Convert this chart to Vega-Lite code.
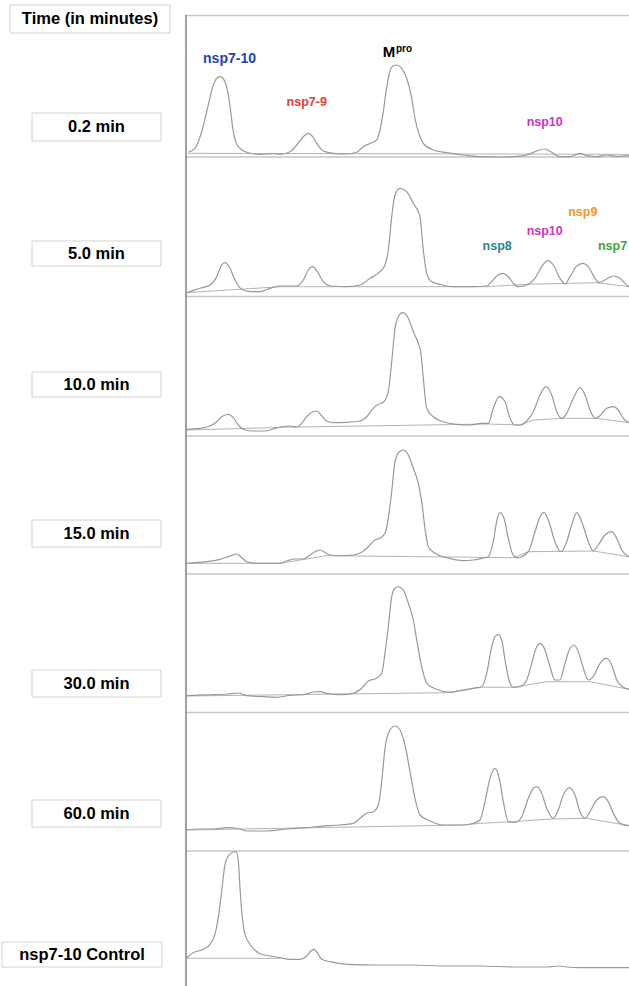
{
  "$schema": "https://vega.github.io/schema/vega-lite/v6.json",
  "width": 629,
  "height": 986,
  "autosize": "none",
  "padding": 0,
  "background": "white",
  "config": {"view": {"stroke": null}},
  "datasets": {
    "traces": [
      {"panel":"0.2","x":2.3,"y":833.7},{"panel":"0.2","x":9,"y":837.7},{"panel":"0.2","x":15.7,"y":854.3},{"panel":"0.2","x":22.3,"y":881},{"panel":"0.2","x":27.3,"y":901},{"panel":"0.2","x":31.3,"y":908.3},{"panel":"0.2","x":34,"y":909.3},{"panel":"0.2","x":39,"y":904.3},{"panel":"0.2","x":42.3,"y":891},{"panel":"0.2","x":44.7,"y":874.3},{"panel":"0.2","x":47.3,"y":854.3},{"panel":"0.2","x":52.3,"y":839.3},{"panel":"0.2","x":60.7,"y":833.7},{"panel":"0.2","x":74,"y":831.7},{"panel":"0.2","x":87.3,"y":832.3},{"panel":"0.2","x":94,"y":831.7},{"panel":"0.2","x":104,"y":834.3},{"panel":"0.2","x":110.7,"y":841},{"panel":"0.2","x":117.3,"y":849.3},{"panel":"0.2","x":122.3,"y":852.7},{"panel":"0.2","x":126.7,"y":849.3},{"panel":"0.2","x":130.7,"y":842.7},{"panel":"0.2","x":137.3,"y":835},{"panel":"0.2","x":147.3,"y":832.7},{"panel":"0.2","x":160.7,"y":832},{"panel":"0.2","x":170.7,"y":833.7},{"panel":"0.2","x":177.3,"y":839.3},{"panel":"0.2","x":185.7,"y":843.3},{"panel":"0.2","x":190.7,"y":846},{"panel":"0.2","x":194,"y":856},{"panel":"0.2","x":197.3,"y":874.3},{"panel":"0.2","x":200,"y":894.3},{"panel":"0.2","x":203.3,"y":912.7},{"panel":"0.2","x":207.3,"y":920.3},{"panel":"0.2","x":210.7,"y":921},{"panel":"0.2","x":215.7,"y":917.7},{"panel":"0.2","x":220.7,"y":907.7},{"panel":"0.2","x":225.7,"y":887.7},{"panel":"0.2","x":229,"y":867.7},{"panel":"0.2","x":232.3,"y":854.3},{"panel":"0.2","x":237.3,"y":842.7},{"panel":"0.2","x":247.3,"y":836},{"panel":"0.2","x":260.7,"y":833.3},{"panel":"0.2","x":277.3,"y":831},{"panel":"0.2","x":294,"y":829.3},{"panel":"0.2","x":310.7,"y":829},{"panel":"0.2","x":327.3,"y":829.3},{"panel":"0.2","x":340.7,"y":831},{"panel":"0.2","x":350.7,"y":835},{"panel":"0.2","x":359,"y":837},{"panel":"0.2","x":365.7,"y":833.7},{"panel":"0.2","x":374,"y":829.3},{"panel":"0.2","x":384,"y":829.3},{"panel":"0.2","x":394,"y":832.7},{"panel":"0.2","x":400.7,"y":830.3},{"panel":"0.2","x":410.7,"y":829.3},{"panel":"0.2","x":420.7,"y":831},{"panel":"0.2","x":430.7,"y":829.7},{"panel":"0.2","x":443,"y":830.3},

      {"panel":"5.0","x":0.7,"y":693.3},{"panel":"5.0","x":14,"y":697.7},{"panel":"5.0","x":24,"y":701},{"panel":"5.0","x":30.7,"y":709.3},{"panel":"5.0","x":35.7,"y":721},{"panel":"5.0","x":39,"y":723.3},{"panel":"5.0","x":44,"y":717.7},{"panel":"5.0","x":49,"y":706},{"panel":"5.0","x":55.7,"y":696.7},{"panel":"5.0","x":64,"y":694.3},{"panel":"5.0","x":74,"y":694.3},{"panel":"5.0","x":84,"y":697.7},{"panel":"5.0","x":94,"y":700},{"panel":"5.0","x":110.7,"y":700},{"panel":"5.0","x":117.3,"y":706},{"panel":"5.0","x":122.3,"y":716},{"panel":"5.0","x":126.7,"y":719.3},{"panel":"5.0","x":131.3,"y":714.3},{"panel":"5.0","x":137.3,"y":704.3},{"panel":"5.0","x":144,"y":700},{"panel":"5.0","x":160.7,"y":699.3},{"panel":"5.0","x":174,"y":701},{"panel":"5.0","x":184,"y":707.7},{"panel":"5.0","x":194,"y":714.3},{"panel":"5.0","x":199,"y":721},{"panel":"5.0","x":202.3,"y":736},{"panel":"5.0","x":205.7,"y":769.3},{"panel":"5.0","x":209,"y":791},{"panel":"5.0","x":214,"y":797.7},{"panel":"5.0","x":220.7,"y":794.3},{"panel":"5.0","x":227.3,"y":782.7},{"panel":"5.0","x":232.3,"y":774.3},{"panel":"5.0","x":234,"y":769.3},{"panel":"5.0","x":237.3,"y":736},{"panel":"5.0","x":240.7,"y":712.7},{"panel":"5.0","x":245.7,"y":704.3},{"panel":"5.0","x":254,"y":701.7},{"panel":"5.0","x":267.3,"y":699.3},{"panel":"5.0","x":287.3,"y":699.3},{"panel":"5.0","x":300.7,"y":700},{"panel":"5.0","x":305.7,"y":704.3},{"panel":"5.0","x":310.7,"y":710},{"panel":"5.0","x":316.7,"y":712.7},{"panel":"5.0","x":322.3,"y":709.3},{"panel":"5.0","x":327.3,"y":702.7},{"panel":"5.0","x":332.3,"y":699.3},{"panel":"5.0","x":340.7,"y":701},{"panel":"5.0","x":349,"y":707.7},{"panel":"5.0","x":355.7,"y":719.3},{"panel":"5.0","x":361.7,"y":725.3},{"panel":"5.0","x":367.3,"y":721},{"panel":"5.0","x":374,"y":707.7},{"panel":"5.0","x":379,"y":702},{"panel":"5.0","x":384,"y":709.3},{"panel":"5.0","x":390.7,"y":720},{"panel":"5.0","x":396.7,"y":722.7},{"panel":"5.0","x":402.3,"y":719.3},{"panel":"5.0","x":409,"y":707.7},{"panel":"5.0","x":413.3,"y":703.3},{"panel":"5.0","x":419,"y":706},{"panel":"5.0","x":427.3,"y":710},{"panel":"5.0","x":434,"y":707.7},{"panel":"5.0","x":440.7,"y":701},{"panel":"5.0","x":443,"y":699.3},

      {"panel":"10.0","x":0.7,"y":556.7},{"panel":"10.0","x":14,"y":557.7},{"panel":"10.0","x":24,"y":560},{"panel":"10.0","x":30.7,"y":564.3},{"panel":"10.0","x":35.7,"y":569.3},{"panel":"10.0","x":42.3,"y":571.7},{"panel":"10.0","x":47.3,"y":568.3},{"panel":"10.0","x":52.3,"y":561},{"panel":"10.0","x":59,"y":556},{"panel":"10.0","x":67.3,"y":555},{"panel":"10.0","x":79,"y":555},{"panel":"10.0","x":87.3,"y":557},{"panel":"10.0","x":94,"y":559},{"panel":"10.0","x":104,"y":560},{"panel":"10.0","x":110.7,"y":559},{"panel":"10.0","x":115.7,"y":562.7},{"panel":"10.0","x":120.7,"y":569.3},{"panel":"10.0","x":125.7,"y":573.7},{"panel":"10.0","x":130.7,"y":575},{"panel":"10.0","x":135.7,"y":570.3},{"panel":"10.0","x":140.7,"y":565},{"panel":"10.0","x":147.3,"y":563.3},{"panel":"10.0","x":160.7,"y":563.7},{"panel":"10.0","x":174,"y":565},{"panel":"10.0","x":180.7,"y":569.3},{"panel":"10.0","x":187.3,"y":577.7},{"panel":"10.0","x":192.3,"y":581.7},{"panel":"10.0","x":197.3,"y":583.7},{"panel":"10.0","x":202.3,"y":594.3},{"panel":"10.0","x":205.7,"y":624.3},{"panel":"10.0","x":209,"y":657.7},{"panel":"10.0","x":212.3,"y":669.3},{"panel":"10.0","x":216.7,"y":673.3},{"panel":"10.0","x":222.3,"y":667.7},{"panel":"10.0","x":227.3,"y":654.3},{"panel":"10.0","x":232.3,"y":642.7},{"panel":"10.0","x":234.7,"y":634.3},{"panel":"10.0","x":237.3,"y":607.7},{"panel":"10.0","x":240.7,"y":577.7},{"panel":"10.0","x":247.3,"y":569.3},{"panel":"10.0","x":257.3,"y":564.3},{"panel":"10.0","x":270.7,"y":561.7},{"panel":"10.0","x":284,"y":561},{"panel":"10.0","x":295.7,"y":562.7},{"panel":"10.0","x":302.3,"y":562.7},{"panel":"10.0","x":307.3,"y":577.7},{"panel":"10.0","x":313.3,"y":589.3},{"panel":"10.0","x":319,"y":584.3},{"panel":"10.0","x":324,"y":567.7},{"panel":"10.0","x":329,"y":561},{"panel":"10.0","x":334,"y":561},{"panel":"10.0","x":340.7,"y":565},{"panel":"10.0","x":347.3,"y":574.3},{"panel":"10.0","x":354,"y":591},{"panel":"10.0","x":360,"y":599.3},{"panel":"10.0","x":365.7,"y":591},{"panel":"10.0","x":370.7,"y":574.3},{"panel":"10.0","x":375.7,"y":567.7},{"panel":"10.0","x":380.7,"y":572.7},{"panel":"10.0","x":387.3,"y":587.7},{"panel":"10.0","x":394,"y":598.3},{"panel":"10.0","x":399,"y":591},{"panel":"10.0","x":404,"y":576},{"panel":"10.0","x":409,"y":567.7},{"panel":"10.0","x":414.7,"y":571},{"panel":"10.0","x":420.7,"y":577.7},{"panel":"10.0","x":427.3,"y":579.3},{"panel":"10.0","x":432.3,"y":576},{"panel":"10.0","x":437.3,"y":567.7},{"panel":"10.0","x":443,"y":563.3},

      {"panel":"15.0","x":0.7,"y":422.7},{"panel":"15.0","x":20.7,"y":424.3},{"panel":"15.0","x":34,"y":426.7},{"panel":"15.0","x":42.3,"y":429.3},{"panel":"15.0","x":50.7,"y":432},{"panel":"15.0","x":55.7,"y":428.3},{"panel":"15.0","x":60.7,"y":424.3},{"panel":"15.0","x":70.7,"y":422.7},{"panel":"15.0","x":94,"y":422.7},{"panel":"15.0","x":100.7,"y":425},{"panel":"15.0","x":109,"y":427},{"panel":"15.0","x":117.3,"y":427},{"panel":"15.0","x":124,"y":431},{"panel":"15.0","x":129,"y":434.3},{"panel":"15.0","x":134,"y":436},{"panel":"15.0","x":139,"y":433.7},{"panel":"15.0","x":144,"y":431},{"panel":"15.0","x":154,"y":430.3},{"panel":"15.0","x":167.3,"y":431},{"panel":"15.0","x":175.7,"y":433.7},{"panel":"15.0","x":182.3,"y":439.3},{"panel":"15.0","x":189,"y":446},{"panel":"15.0","x":194,"y":447.7},{"panel":"15.0","x":199,"y":452.7},{"panel":"15.0","x":202.3,"y":467.7},{"panel":"15.0","x":205.7,"y":494.3},{"panel":"15.0","x":209,"y":524.3},{"panel":"15.0","x":213.3,"y":534.3},{"panel":"15.0","x":217.3,"y":536},{"panel":"15.0","x":222.3,"y":531},{"panel":"15.0","x":227.3,"y":517.7},{"panel":"15.0","x":232.3,"y":502.7},{"panel":"15.0","x":235.7,"y":484.3},{"panel":"15.0","x":239,"y":457.7},{"panel":"15.0","x":242.3,"y":439.3},{"panel":"15.0","x":249,"y":432.7},{"panel":"15.0","x":260.7,"y":428.3},{"panel":"15.0","x":277.3,"y":425.3},{"panel":"15.0","x":287.3,"y":426},{"panel":"15.0","x":295.7,"y":427.7},{"panel":"15.0","x":302.3,"y":429.3},{"panel":"15.0","x":307.3,"y":444.3},{"panel":"15.0","x":311.3,"y":467.7},{"panel":"15.0","x":314,"y":473.3},{"panel":"15.0","x":318,"y":467.7},{"panel":"15.0","x":322.3,"y":447.7},{"panel":"15.0","x":326.3,"y":432.7},{"panel":"15.0","x":330.7,"y":428.3},{"panel":"15.0","x":335.7,"y":429.3},{"panel":"15.0","x":342.3,"y":434.3},{"panel":"15.0","x":349,"y":454.3},{"panel":"15.0","x":354,"y":469.3},{"panel":"15.0","x":358,"y":473.3},{"panel":"15.0","x":362.3,"y":466},{"panel":"15.0","x":369,"y":444.3},{"panel":"15.0","x":374.7,"y":434.3},{"panel":"15.0","x":380.7,"y":444.3},{"panel":"15.0","x":385.7,"y":461},{"panel":"15.0","x":390.7,"y":473.3},{"panel":"15.0","x":395.7,"y":464.3},{"panel":"15.0","x":402.3,"y":444.3},{"panel":"15.0","x":407.3,"y":435},{"panel":"15.0","x":412.3,"y":441},{"panel":"15.0","x":419,"y":451},{"panel":"15.0","x":425.7,"y":454.3},{"panel":"15.0","x":430.7,"y":447.7},{"panel":"15.0","x":435.7,"y":436},{"panel":"15.0","x":443,"y":429.3},

      {"panel":"30.0","x":0.7,"y":290.3},{"panel":"30.0","x":7.3,"y":290.7},{"panel":"30.0","x":27.3,"y":291.3},{"panel":"30.0","x":40.7,"y":292},{"panel":"30.0","x":52.3,"y":293},{"panel":"30.0","x":60.7,"y":290.3},{"panel":"30.0","x":77.3,"y":289.3},{"panel":"30.0","x":90.7,"y":288.7},{"panel":"30.0","x":104,"y":290.7},{"panel":"30.0","x":117.3,"y":291.3},{"panel":"30.0","x":127.3,"y":294},{"panel":"30.0","x":134,"y":294.3},{"panel":"30.0","x":140.7,"y":292.7},{"panel":"30.0","x":154,"y":291.3},{"panel":"30.0","x":167.3,"y":292.7},{"panel":"30.0","x":175.7,"y":297.7},{"panel":"30.0","x":182.3,"y":305},{"panel":"30.0","x":190.7,"y":307.7},{"panel":"30.0","x":195.7,"y":312.7},{"panel":"30.0","x":199,"y":332.7},{"panel":"30.0","x":202.3,"y":359.3},{"panel":"30.0","x":205.7,"y":389.3},{"panel":"30.0","x":209,"y":397.7},{"panel":"30.0","x":212.3,"y":399.3},{"panel":"30.0","x":217.3,"y":396},{"panel":"30.0","x":222.3,"y":382.7},{"panel":"30.0","x":227.3,"y":366},{"panel":"30.0","x":231.3,"y":342.7},{"panel":"30.0","x":235.7,"y":319.3},{"panel":"30.0","x":240.7,"y":302.7},{"panel":"30.0","x":250.7,"y":296.7},{"panel":"30.0","x":264,"y":293.7},{"panel":"30.0","x":274,"y":295.3},{"panel":"30.0","x":287.3,"y":297.7},{"panel":"30.0","x":295.7,"y":299.3},{"panel":"30.0","x":300.7,"y":312.7},{"panel":"30.0","x":305.7,"y":339.3},{"panel":"30.0","x":309,"y":349.3},{"panel":"30.0","x":312.3,"y":351.7},{"panel":"30.0","x":315.7,"y":346},{"panel":"30.0","x":319,"y":326},{"panel":"30.0","x":323,"y":306},{"panel":"30.0","x":327.3,"y":298.7},{"panel":"30.0","x":334,"y":299.3},{"panel":"30.0","x":340.7,"y":306},{"panel":"30.0","x":345.7,"y":322.7},{"panel":"30.0","x":350.7,"y":339.3},{"panel":"30.0","x":354.7,"y":342.7},{"panel":"30.0","x":359,"y":336},{"panel":"30.0","x":364,"y":319.3},{"panel":"30.0","x":369,"y":306},{"panel":"30.0","x":374,"y":306},{"panel":"30.0","x":379,"y":322.7},{"panel":"30.0","x":384,"y":337.7},{"panel":"30.0","x":388,"y":341},{"panel":"30.0","x":392.3,"y":334.3},{"panel":"30.0","x":397.3,"y":317.7},{"panel":"30.0","x":402.3,"y":306},{"panel":"30.0","x":407.3,"y":309.3},{"panel":"30.0","x":414,"y":322.7},{"panel":"30.0","x":420.7,"y":327.7},{"panel":"30.0","x":425.7,"y":321},{"panel":"30.0","x":430.7,"y":306},{"panel":"30.0","x":437.3,"y":298.7},{"panel":"30.0","x":443,"y":296.7},

      {"panel":"60.0","x":0.7,"y":156},{"panel":"60.0","x":14,"y":157},{"panel":"60.0","x":27.3,"y":157},{"panel":"60.0","x":40.7,"y":158.3},{"panel":"60.0","x":54,"y":157},{"panel":"60.0","x":60.7,"y":155},{"panel":"60.0","x":80.7,"y":155},{"panel":"60.0","x":100.7,"y":157},{"panel":"60.0","x":120.7,"y":158.3},{"panel":"60.0","x":134,"y":159.7},{"panel":"60.0","x":154,"y":161},{"panel":"60.0","x":167.3,"y":162.7},{"panel":"60.0","x":174,"y":167.7},{"panel":"60.0","x":180.7,"y":172.7},{"panel":"60.0","x":187.3,"y":174.3},{"panel":"60.0","x":192.3,"y":181},{"panel":"60.0","x":195.7,"y":204.3},{"panel":"60.0","x":199,"y":237.7},{"panel":"60.0","x":204,"y":256},{"panel":"60.0","x":209,"y":260},{"panel":"60.0","x":214,"y":256},{"panel":"60.0","x":219,"y":241},{"panel":"60.0","x":224,"y":214.3},{"panel":"60.0","x":229,"y":187.7},{"panel":"60.0","x":234,"y":171},{"panel":"60.0","x":244,"y":165},{"panel":"60.0","x":257.3,"y":161},{"panel":"60.0","x":277.3,"y":161},{"panel":"60.0","x":287.3,"y":162.7},{"panel":"60.0","x":294,"y":166},{"panel":"60.0","x":299,"y":184.3},{"panel":"60.0","x":304,"y":207.7},{"panel":"60.0","x":309,"y":217.7},{"panel":"60.0","x":313.3,"y":207.7},{"panel":"60.0","x":317.3,"y":184.3},{"panel":"60.0","x":322.3,"y":164.3},{"panel":"60.0","x":329,"y":163.7},{"panel":"60.0","x":335.7,"y":169.3},{"panel":"60.0","x":342.3,"y":187.7},{"panel":"60.0","x":347.3,"y":197.7},{"panel":"60.0","x":350.7,"y":199.3},{"panel":"60.0","x":355.7,"y":192.7},{"panel":"60.0","x":360.7,"y":177.7},{"panel":"60.0","x":367.3,"y":167.7},{"panel":"60.0","x":372.3,"y":176},{"panel":"60.0","x":377.3,"y":191},{"panel":"60.0","x":383.3,"y":198.3},{"panel":"60.0","x":389,"y":191},{"panel":"60.0","x":394,"y":174.3},{"panel":"60.0","x":399,"y":167.7},{"panel":"60.0","x":404,"y":174.3},{"panel":"60.0","x":410.7,"y":186},{"panel":"60.0","x":417.3,"y":189.3},{"panel":"60.0","x":422.3,"y":184.3},{"panel":"60.0","x":427.3,"y":172.7},{"panel":"60.0","x":434,"y":162.7},{"panel":"60.0","x":443,"y":160.3},

      {"panel":"control","x":0,"y":27.7},{"panel":"control","x":7.3,"y":33.3},{"panel":"control","x":17.3,"y":36.7},{"panel":"control","x":24,"y":41.7},{"panel":"control","x":29,"y":51.7},{"panel":"control","x":32.3,"y":68.3},{"panel":"control","x":35.7,"y":95},{"panel":"control","x":39,"y":121.7},{"panel":"control","x":42.3,"y":130},{"panel":"control","x":47.3,"y":134},{"panel":"control","x":50,"y":134.3},{"panel":"control","x":52.3,"y":125},{"panel":"control","x":54,"y":98.3},{"panel":"control","x":55.7,"y":75},{"panel":"control","x":59,"y":51.7},{"panel":"control","x":64,"y":41.7},{"panel":"control","x":74,"y":32.3},{"panel":"control","x":84,"y":30},{"panel":"control","x":94,"y":28.3},{"panel":"control","x":104,"y":26.7},{"panel":"control","x":114,"y":26.7},{"panel":"control","x":120.7,"y":30},{"panel":"control","x":124.7,"y":35},{"panel":"control","x":128,"y":36.7},{"panel":"control","x":131.3,"y":33.3},{"panel":"control","x":135.7,"y":26.7},{"panel":"control","x":144,"y":24.3},{"panel":"control","x":160.7,"y":21.7},{"panel":"control","x":194,"y":21},{"panel":"control","x":227.3,"y":21},{"panel":"control","x":260.7,"y":20},{"panel":"control","x":294,"y":20},{"panel":"control","x":327.3,"y":19},{"panel":"control","x":360.7,"y":19},{"panel":"control","x":374,"y":20},{"panel":"control","x":380.7,"y":19},{"panel":"control","x":394,"y":18.3},{"panel":"control","x":427.3,"y":18.3},{"panel":"control","x":443,"y":18.3}
    ],
    "baselines": [
      {"panel":"0.2","x":2.3,"y":832.7},{"panel":"0.2","x":443,"y":831.7},
      {"panel":"5.0","x":0.7,"y":693.3},{"panel":"5.0","x":94,"y":699.3},{"panel":"5.0","x":300.7,"y":699.3},{"panel":"5.0","x":340.7,"y":701.7},{"panel":"5.0","x":410.7,"y":703.3},{"panel":"5.0","x":443,"y":699.3},
      {"panel":"10.0","x":0.7,"y":556},{"panel":"10.0","x":110.7,"y":559},{"panel":"10.0","x":302.3,"y":562},{"panel":"10.0","x":334,"y":561},{"panel":"10.0","x":347.3,"y":566},{"panel":"10.0","x":377.3,"y":567.7},{"panel":"10.0","x":410.7,"y":567.7},{"panel":"10.0","x":443,"y":563.3},
      {"panel":"15.0","x":0.7,"y":422.7},{"panel":"15.0","x":94,"y":422.7},{"panel":"15.0","x":140.7,"y":430.3},{"panel":"15.0","x":327.3,"y":428.3},{"panel":"15.0","x":342.3,"y":434.3},{"panel":"15.0","x":407.3,"y":435},{"panel":"15.0","x":443,"y":429.3},
      {"panel":"30.0","x":0.7,"y":290},{"panel":"30.0","x":260.7,"y":293.3},{"panel":"30.0","x":294,"y":298.7},{"panel":"30.0","x":327.3,"y":298.7},{"panel":"30.0","x":360.7,"y":304.3},{"panel":"30.0","x":404,"y":304.3},{"panel":"30.0","x":443,"y":296.7},
      {"panel":"60.0","x":0.7,"y":156},{"panel":"60.0","x":277.3,"y":161},{"panel":"60.0","x":294,"y":162.7},{"panel":"60.0","x":327.3,"y":164.3},{"panel":"60.0","x":364,"y":167},{"panel":"60.0","x":400.7,"y":167.7},{"panel":"60.0","x":443,"y":160.3},
      {"panel":"control","x":0,"y":27.7},{"panel":"control","x":94,"y":27.7}
    ],
    "separators": [
      {"x":0,"x2":443,"y":970.5},{"x":0,"x2":443,"y":829},{"x":0,"x2":443,"y":689.5},{"x":0,"x2":443,"y":550},{"x":0,"x2":443,"y":412},{"x":0,"x2":443,"y":273.5},{"x":0,"x2":443,"y":135}
    ],
    "axisline": [{"x":0,"y":0,"y2":971}],
    "boxes": [
      {"label":"Time (in minutes)","x":-176,"x2":-16,"y":981,"y2":953,"xc":-96,"yc":967},
      {"label":"0.2 min","x":-154,"x2":-25,"y":873,"y2":845,"xc":-89.5,"yc":859},
      {"label":"5.0 min","x":-154,"x2":-25,"y":745,"y2":720,"xc":-89.5,"yc":732.5},
      {"label":"10.0 min","x":-154,"x2":-25,"y":614,"y2":589,"xc":-89.5,"yc":601.5},
      {"label":"15.0 min","x":-154,"x2":-25,"y":466,"y2":439,"xc":-89.5,"yc":452.5},
      {"label":"30.0 min","x":-154,"x2":-25,"y":316,"y2":289,"xc":-89.5,"yc":302.5},
      {"label":"60.0 min","x":-154,"x2":-25,"y":186,"y2":159,"xc":-89.5,"yc":172.5},
      {"label":"nsp7-10 Control","x":-184,"x2":-24,"y":44,"y2":19,"xc":-104,"yc":31.5}
    ],
    "peaks": [
      {"protein":"nsp7-10","text":"nsp7-10","x":43.5,"y":927},
      {"protein":"nsp7-9","text":"nsp7-9","x":120.7,"y":884.3},
      {"protein":"nsp10","text":"nsp10","x":358.7,"y":863.8},
      {"protein":"nsp8","text":"nsp8","x":311.2,"y":740.2},
      {"protein":"nsp10","text":"nsp10","x":358.7,"y":755.5},
      {"protein":"nsp9","text":"nsp9","x":396.8,"y":774.3},
      {"protein":"nsp7","text":"nsp7","x":426.5,"y":740.2}
    ],
    "mpro": [
      {"protein":"Mpro","text":"M","part":"main","x":196.7,"y":929.3},
      {"protein":"Mpro","text":"pro","part":"sup","x":210,"y":934}
    ]
  },
  "encoding": {
    "x": {"field": "x", "type": "quantitative", "scale": {"domain": [-186, 443], "nice": false, "zero": false}, "axis": null},
    "y": {"field": "y", "type": "quantitative", "scale": {"domain": [0, 986], "nice": false, "zero": false}, "axis": null}
  },
  "layer": [
    {
      "data": {"name": "separators"},
      "mark": {"type": "rule", "color": "#c6c6c6", "strokeWidth": 1.5},
      "encoding": {"x2": {"field": "x2"}}
    },
    {
      "data": {"name": "axisline"},
      "mark": {"type": "rule", "color": "#808080", "strokeWidth": 1.5},
      "encoding": {"y2": {"field": "y2"}}
    },
    {
      "data": {"name": "baselines"},
      "mark": {"type": "line", "color": "#b4b4b4", "strokeWidth": 1},
      "encoding": {"detail": {"field": "panel", "type": "nominal"}}
    },
    {
      "data": {"name": "traces"},
      "mark": {"type": "line", "color": "#999999", "strokeWidth": 1.2, "interpolate": "monotone"},
      "encoding": {"detail": {"field": "panel", "type": "nominal"}}
    },
    {
      "data": {"name": "boxes"},
      "mark": {"type": "rect", "fill": "white", "stroke": "#d2d2d2", "strokeWidth": 1},
      "encoding": {"x2": {"field": "x2"}, "y2": {"field": "y2"}}
    },
    {
      "data": {"name": "boxes"},
      "mark": {"type": "text", "font": "Liberation Sans", "fontWeight": "bold", "fontSize": 16.5, "color": "black", "align": "center", "baseline": "middle"},
      "encoding": {
        "x": {"field": "xc", "type": "quantitative"},
        "y": {"field": "yc", "type": "quantitative"},
        "text": {"field": "label"}
      }
    },
    {
      "data": {"name": "peaks"},
      "mark": {"type": "text", "font": "Liberation Sans", "fontWeight": "bold", "align": "center", "baseline": "middle"},
      "encoding": {
        "text": {"field": "text"},
        "size": {"condition": {"test": "datum.protein === 'nsp7-10'", "value": 14}, "value": 12.5},
        "color": {"field": "protein", "type": "nominal", "legend": null,
          "scale": {"domain": ["nsp7-10", "nsp7-9", "Mpro", "nsp10", "nsp8", "nsp9", "nsp7"],
                    "range": ["#1f3fb8", "#e83a2c", "#000000", "#cc33cc", "#2a8585", "#f5962a", "#3aa63a"]}}
      }
    },
    {
      "data": {"name": "mpro"},
      "mark": {"type": "text", "font": "Liberation Sans", "fontWeight": "bold", "align": "left", "baseline": "alphabetic", "color": "black"},
      "encoding": {
        "text": {"field": "text"},
        "size": {"condition": {"test": "datum.part === 'sup'", "value": 10}, "value": 15}
      }
    }
  ]
}
